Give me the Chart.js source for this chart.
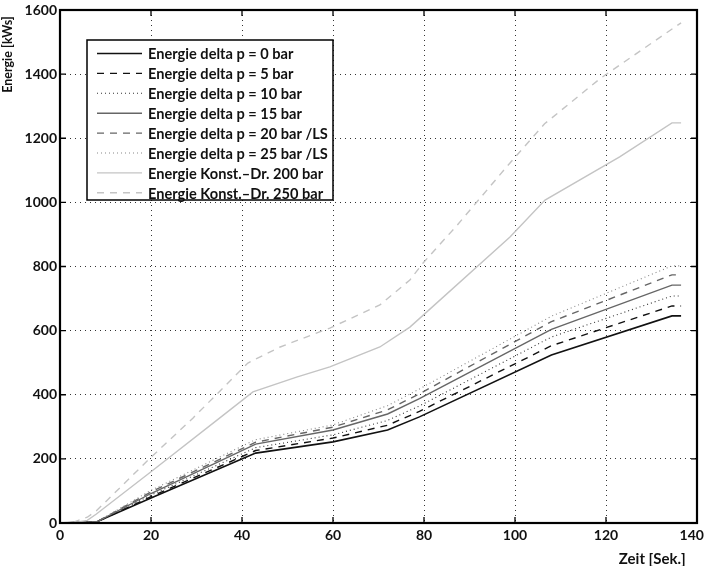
<!DOCTYPE html>
<html>
<head>
<meta charset="utf-8">
<script src="https://cdn.jsdelivr.net/npm/chart.js@4/dist/chart.umd.min.js"></script>
<style>
    html, body { margin: 0; padding: 0; background: #fff; }
    #wrap { width: 704px; height: 566px; }
</style>
</head>
<body>
<div id="wrap"><canvas id="energie_chart" width="704" height="566"></canvas></div>
<script>
'use strict';

// ------------------------------------------------------- //
// Daten
// ------------------------------------------------------ //

var zeitDelta = [0, 4, 8, 20, 43, 60, 72, 79, 108, 134.5, 136.5];
var e0  = [0, 2, 3, 78, 218, 253, 290, 331, 524, 646, 646];
var e5  = [0, 2, 3, 82, 226, 265, 305, 348, 553, 677, 677];
var e10 = [0, 2, 3, 87, 235, 275, 320, 365, 580, 708, 708];
var e15 = [0, 2, 3, 92, 246, 290, 340, 388, 604, 742, 742];
var e20 = [0, 2, 3, 97, 252, 299, 353, 403, 628, 774, 774];
var e25 = [0, 2, 3, 102, 260, 306, 366, 418, 645, 802, 802];

var zeit200 = [0, 3, 6, 8, 20, 34.5, 42.4, 52, 59.3, 70.3, 76.9, 79.1, 98.9, 106.6, 123, 134.5, 136.5];
var k200    = [0, 1, 8, 28, 160, 321, 409, 455, 487, 549, 611, 639, 892, 1007, 1142, 1248, 1248];

var zeit250 = [0, 3, 6, 8, 20, 29.2, 41.3, 48.4, 59.3, 70.3, 76.9, 79.8, 87.3, 98.9, 106.5, 118.7, 136.5];
var k250    = [0, 3, 18, 38, 205, 327, 499, 549, 608, 680, 758, 811, 929, 1123, 1245, 1386, 1560];

var labels = [
    'Energie delta p = 0 bar',
    'Energie delta p = 5 bar',
    'Energie delta p = 10 bar',
    'Energie delta p = 15 bar',
    'Energie delta p = 20 bar /LS',
    'Energie delta p = 25 bar /LS',
    'Energie Konst.\u2013Dr. 200 bar',
    'Energie Konst.\u2013Dr. 250 bar'
];
var xTicks = [0, 20, 40, 60, 80, 100, 120, 140];
var yTicks = [0, 200, 400, 600, 800, 1000, 1200, 1400, 1600];

function pts(xs, ys) {
    return xs.map(function (x, i) { return { x: x, y: ys[i] }; });
}

var styles = [
    { color: '#111', width: 1.6, dash: [] },
    { color: '#111', width: 1.4, dash: [7, 6] },
    { color: '#333', width: 1.1, dash: [1, 3] },
    { color: '#666', width: 1.4, dash: [] },
    { color: '#666', width: 1.4, dash: [7, 6] },
    { color: '#888', width: 1.1, dash: [1, 3] },
    { color: '#c4c4c4', width: 1.4, dash: [] },
    { color: '#c4c4c4', width: 1.4, dash: [7, 6] }
];
var series = [
    pts(zeitDelta, e0), pts(zeitDelta, e5), pts(zeitDelta, e10),
    pts(zeitDelta, e15), pts(zeitDelta, e20), pts(zeitDelta, e25),
    pts(zeit200, k200), pts(zeit250, k250)
];

var datasets = series.map(function (d, i) {
    return {
        label: labels[i],
        data: d,
        borderColor: styles[i].color,
        borderWidth: styles[i].width,
        borderDash: styles[i].dash,
        pointRadius: 0,
        fill: false,
        tension: 0
    };
}).reverse();

var FONT = 'Lato, "DejaVu Sans", sans-serif';

// Rahmen, innere Ticks, Legende
var framePlugin = {
    id: 'frame',
    afterDraw: function (chart) {
        var ctx = chart.ctx;
        var a = chart.chartArea;
        var xs = chart.scales.x, ys = chart.scales.y;
        ctx.save();
        ctx.strokeStyle = '#000';
        ctx.lineWidth = 1.3;
        ctx.setLineDash([]);
        ctx.beginPath();
        xTicks.forEach(function (v) {
            var px = xs.getPixelForValue(v);
            ctx.moveTo(px, a.bottom); ctx.lineTo(px, a.bottom - 6);
            ctx.moveTo(px, a.top); ctx.lineTo(px, a.top + 6);
        });
        yTicks.forEach(function (v) {
            var py = ys.getPixelForValue(v);
            ctx.moveTo(a.left, py); ctx.lineTo(a.left + 6, py);
            ctx.moveTo(a.right, py); ctx.lineTo(a.right - 6, py);
        });
        ctx.stroke();
        ctx.lineWidth = 2.2;
        ctx.strokeRect(a.left, a.top, a.right - a.left, a.bottom - a.top);

        // Legende
        var lx = 87, ly = 40, lw = 246, lh = 160;
        ctx.fillStyle = '#fff';
        ctx.fillRect(lx, ly, lw, lh);
        ctx.lineWidth = 1.5;
        ctx.strokeStyle = '#000';
        ctx.strokeRect(lx, ly, lw, lh);
        ctx.font = 'bold 14.6px ' + FONT;
        ctx.textBaseline = 'middle';
        labels.forEach(function (lab, i) {
            var y = 53.5 + i * 19.9;
            ctx.strokeStyle = styles[i].color;
            ctx.lineWidth = styles[i].width;
            ctx.setLineDash(styles[i].dash);
            ctx.beginPath();
            ctx.moveTo(97, y); ctx.lineTo(142, y);
            ctx.stroke();
            ctx.fillStyle = '#111';
            ctx.fillText(lab, 148, y + 1);
        });
        ctx.restore();
    }
};

function plain(v) {
    // letzte Beschriftung etwas nach links, wie im Original
    return v === 140 ? '140\u2003' : String(v);
}

var ctxEl = document.getElementById('energie_chart');
var energieChart = new Chart(ctxEl, {
    type: 'line',
    data: { datasets: datasets },
    plugins: [framePlugin],
    options: {
        responsive: false,
        animation: false,
        devicePixelRatio: 1,
        layout: { padding: { top: 10, right: 7, left: 0, bottom: 0 } },
        plugins: {
            legend: { display: false },
            tooltip: { enabled: false }
        },
        scales: {
            x: {
                type: 'linear',
                min: 0, max: 140,
                afterFit: function (s) { s.height = 43; s.paddingLeft = 0; s.paddingRight = 0; },
                border: { display: false, dash: [1, 4] },
                grid: { color: '#333', lineWidth: 1, drawTicks: false },
                ticks: {
                    stepSize: 20, padding: 4, color: '#111',
                    font: { family: FONT, size: 14, weight: 'bold' },
                    maxRotation: 0,
                    callback: plain
                },
                title: {
                    display: true, text: 'Zeit [Sek.]\u2003', align: 'end', color: '#111',
                    font: { family: FONT, size: 15, weight: 'bold' },
                    padding: { top: 2, bottom: -2 }
                }
            },
            y: {
                min: 0, max: 1600,
                afterFit: function (s) { s.width = 60; s.paddingTop = 0; s.paddingBottom = 0; },
                border: { display: false, dash: [1, 4] },
                grid: { color: '#333', lineWidth: 1, drawTicks: false },
                ticks: {
                    stepSize: 200, padding: 3, color: '#111',
                    font: { family: FONT, size: 14, weight: 'bold' },
                    callback: function (v) { return String(v); }
                },
                title: {
                    display: true, text: 'Energie [kWs]\u2002', align: 'end', color: '#111',
                    font: { family: FONT, size: 12.5, weight: 'bold' },
                    padding: { top: 0, bottom: 4 }
                }
            }
        }
    }
});
</script>
</body>
</html>
